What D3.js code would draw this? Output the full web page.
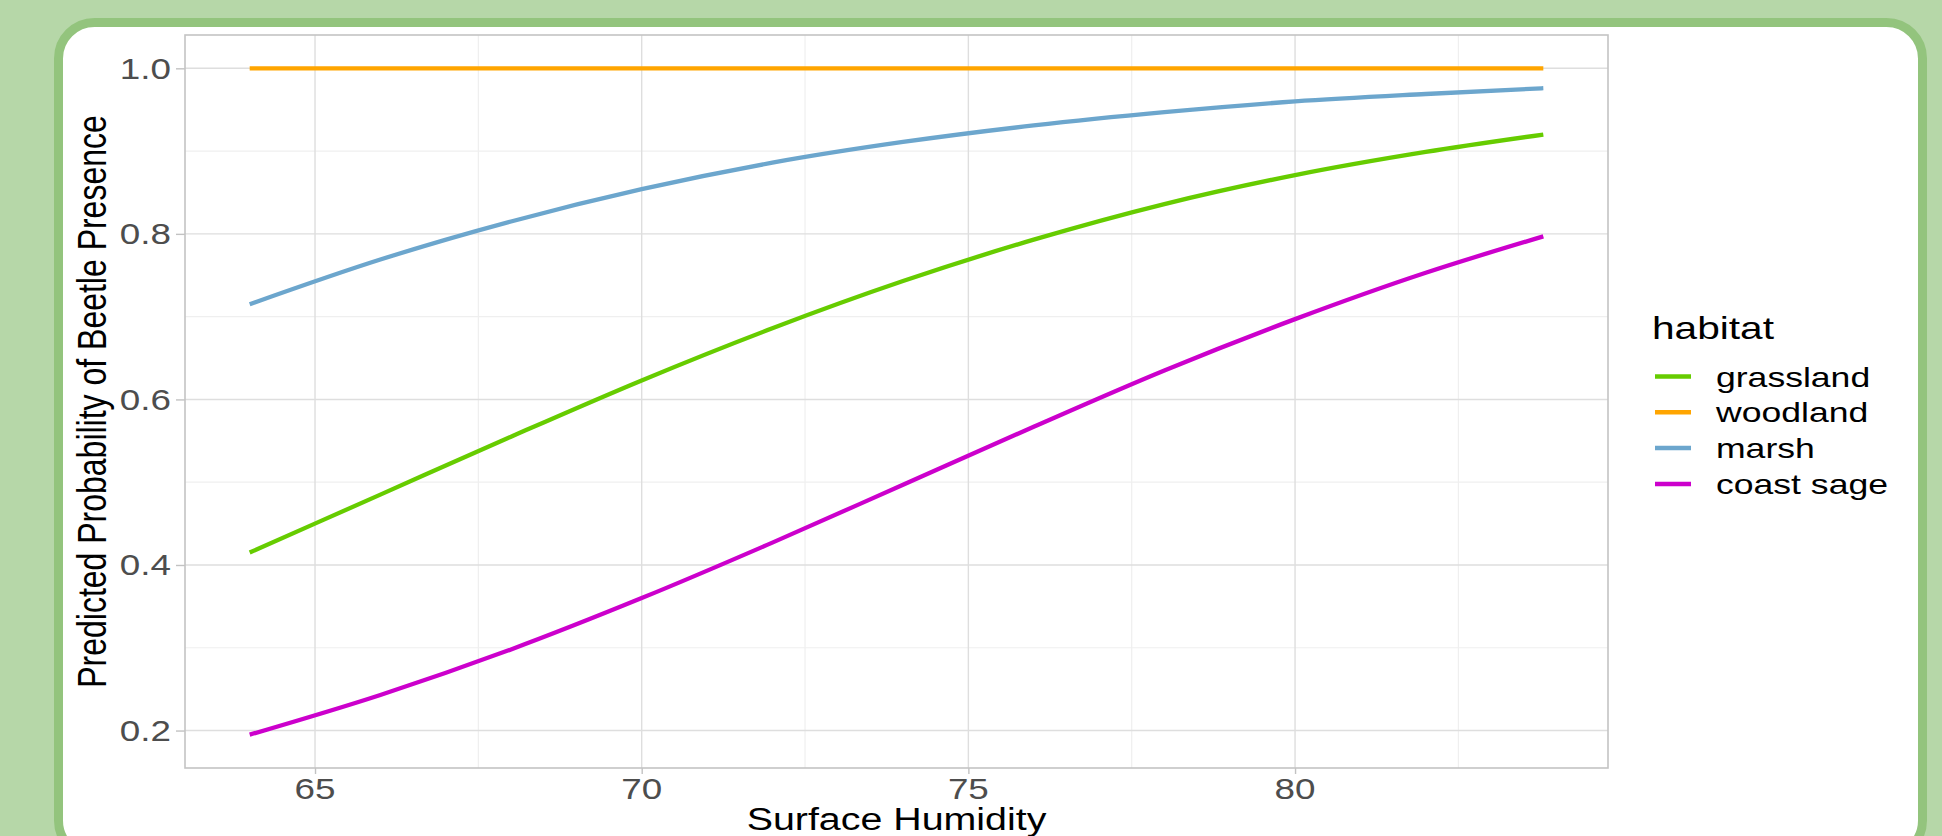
<!DOCTYPE html>
<html>
<head>
<meta charset="utf-8">
<script src="https://cdn.jsdelivr.net/npm/d3@7"></script>
<style>
body{margin:0;background:#b6d7a8;}
svg{display:block;}
text{font-family:"Liberation Sans",Arial,sans-serif;}
</style>
</head>
<body>
<svg id="svg1" width="1942" height="836"></svg>
<script>
// values
var humidity = [64, 66, 68, 70, 72, 74, 76, 78, 80, 82, 83.8]
var habitats = ["grassland", "woodland", "marsh", "coast sage"]
var colors = ["#66cc00", "#ffa500", "#6ca6cd", "#cc00cc"]
var grassland = [0.415, 0.485, 0.555, 0.623, 0.686, 0.743, 0.793, 0.836, 0.871, 0.899, 0.920]
var woodland = [1, 1, 1, 1, 1, 1, 1, 1, 1, 1, 1]
var marsh = [0.715, 0.769, 0.815, 0.854, 0.886, 0.911, 0.931, 0.947, 0.960, 0.969, 0.976]
var coastSage = [0.195, 0.243, 0.298, 0.360, 0.427, 0.497, 0.567, 0.635, 0.697, 0.753, 0.797]
var series = [grassland, woodland, marsh, coastSage]
var xTicks = [65, 70, 75, 80]
var yTicks = [0.2, 0.4, 0.6, 0.8, 1.0]

var sx = 1.27 // picture is stretched sideways
var svg = d3.select("#svg1")

// card
svg.append("rect")
  .attr("x", 58.5).attr("y", 22.5)
  .attr("width", 1864).attr("height", 834)
  .attr("rx", 36).attr("ry", 36)
  .attr("fill", "white")
  .attr("stroke", "#93c47d")
  .attr("stroke-width", 9)

var pLeft = 185, pRight = 1608, pTop = 35, pBottom = 768

var xmin = d3.min(humidity), xmax = d3.max(humidity)
var allY = d3.merge(series)
var ymin = d3.min(allY), ymax = d3.max(allY)
var xpad = (xmax - xmin) * 0.05, ypad = (ymax - ymin) * 0.05

var x = d3.scaleLinear().domain([xmin - xpad, xmax + xpad]).range([pLeft, pRight])
var y = d3.scaleLinear().domain([ymin - ypad, ymax + ypad]).range([pBottom, pTop])

var g = svg.append("g")

// minor grid
var xMinor = [67.5, 72.5, 77.5, 82.5]
var yMinor = [0.3, 0.5, 0.7, 0.9]
g.selectAll(".xminor").data(xMinor).enter().append("line")
  .attr("x1", d => x(d)).attr("x2", d => x(d))
  .attr("y1", pTop).attr("y2", pBottom)
  .attr("stroke", "#efefef").attr("stroke-width", 1.2)
g.selectAll(".yminor").data(yMinor).enter().append("line")
  .attr("x1", pLeft).attr("x2", pRight)
  .attr("y1", d => y(d)).attr("y2", d => y(d))
  .attr("stroke", "#efefef").attr("stroke-width", 1.2)

// major grid
g.selectAll(".xmajor").data(xTicks).enter().append("line")
  .attr("x1", d => x(d)).attr("x2", d => x(d))
  .attr("y1", pTop).attr("y2", pBottom)
  .attr("stroke", "#dedede").attr("stroke-width", 1.4)
g.selectAll(".ymajor").data(yTicks).enter().append("line")
  .attr("x1", pLeft).attr("x2", pRight)
  .attr("y1", d => y(d)).attr("y2", d => y(d))
  .attr("stroke", "#dedede").attr("stroke-width", 1.4)

// axes (ticks only, labels drawn stretched below)
var xAxis = svg.append("g")
  .attr("transform", "translate(0," + pBottom + ")")
  .call(d3.axisBottom(x).tickValues(xTicks).tickSize(6).tickFormat(""))
var yAxis = svg.append("g")
  .attr("transform", "translate(" + pLeft + ",0)")
  .call(d3.axisLeft(y).tickValues(yTicks).tickSize(9).tickFormat(""))
xAxis.select(".domain").remove()
yAxis.select(".domain").remove()
svg.selectAll(".tick line").attr("stroke", "#c2c2c2").attr("stroke-width", 1.4)

// panel border
svg.append("rect")
  .attr("x", pLeft).attr("y", pTop)
  .attr("width", pRight - pLeft).attr("height", pBottom - pTop)
  .attr("fill", "none").attr("stroke", "#c4c4c4").attr("stroke-width", 1.6)

// tick labels
svg.selectAll(".xlab").data(xTicks).enter().append("text")
  .attr("transform", d => "translate(" + x(d) + ",799) scale(" + sx + ",1)")
  .attr("text-anchor", "middle")
  .attr("font-size", 29)
  .attr("fill", "#4d4d4d")
  .text(d => d)
svg.selectAll(".ylab").data(yTicks).enter().append("text")
  .attr("transform", d => "translate(171," + (y(d) + 10.5) + ") scale(" + sx + ",1)")
  .attr("text-anchor", "end")
  .attr("font-size", 29)
  .attr("fill", "#4d4d4d")
  .text(d => d3.format(".1f")(d))

// axis titles
svg.append("text")
  .attr("transform", "translate(" + ((pLeft + pRight) / 2) + ",829.5) scale(" + sx + ",1)")
  .attr("text-anchor", "middle")
  .attr("font-size", 31)
  .attr("fill", "black")
  .text("Surface Humidity")
svg.append("text")
  .attr("transform", "translate(106," + ((pTop + pBottom) / 2) + ") scale(" + sx + ",1) rotate(-90)")
  .attr("text-anchor", "middle")
  .attr("font-size", 32)
  .attr("fill", "black")
  .text("Predicted Probability of Beetle Presence")

// lines
var line = d3.line()
  .x((d, i) => x(humidity[i]))
  .y(d => y(d))
  .curve(d3.curveMonotoneX)

svg.selectAll(".curve").data(series).enter().append("path")
  .attr("d", d => line(d))
  .attr("fill", "none")
  .attr("stroke", (d, i) => colors[i])
  .attr("stroke-width", 4.3)

// legend
var legX = 1652
svg.append("text")
  .attr("transform", "translate(" + legX + ",339) scale(" + sx + ",1)")
  .attr("font-size", 32)
  .attr("fill", "black")
  .text("habitat")

var leg = svg.selectAll(".leg").data(habitats).enter().append("g")
  .attr("transform", (d, i) => "translate(" + legX + "," + (376.5 + i * 35.8) + ")")
leg.append("line")
  .attr("x1", 3).attr("x2", 39)
  .attr("y1", 0).attr("y2", 0)
  .attr("stroke", (d, i) => colors[i])
  .attr("stroke-width", 4.5)
leg.append("text")
  .attr("transform", "translate(64,10) scale(" + sx + ",1)")
  .attr("font-size", 28)
  .attr("fill", "black")
  .text(d => d)
</script>
</body>
</html>
